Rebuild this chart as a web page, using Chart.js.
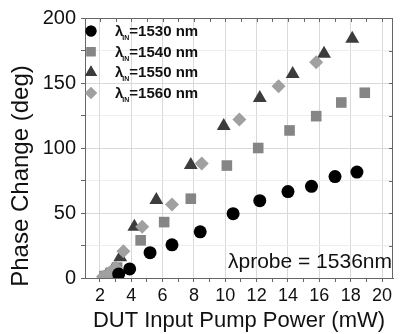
<!DOCTYPE html>
<html>
<head>
<meta charset="utf-8">
<script src="https://cdn.jsdelivr.net/npm/chart.js@4/dist/chart.umd.min.js"></script>
<style>
  html, body { margin: 0; padding: 0; background: #fff; }
  #wrap { width: 401px; height: 334px; }
</style>
</head>
<body>
<div id="wrap"><canvas id="phaseChart" width="401" height="334"></canvas></div>
<script>
// values (pump power in mW, phase change in deg)
const seriesLabels = ['1530', '1540', '1550', '1560'];

const power1530 = [3.2, 3.9, 5.2, 6.6, 8.4, 10.5, 12.2, 14.0, 15.5, 17.0, 18.4];
const phase1530 = [3, 7, 19.5, 25.5, 35.5, 49.5, 59.5, 66.5, 70.5, 78, 81.5];

const power1540 = [2.3, 2.7, 3.1, 4.6, 6.1, 7.8, 10.1, 12.1, 14.1, 15.8, 17.4, 18.9];
const phase1540 = [1.5, 4, 8, 29, 43, 61, 86.5, 100, 113.5, 124.5, 135, 142.5];

const power1550 = [2.4, 2.8, 3.3, 4.2, 5.6, 7.8, 9.9, 12.2, 14.3, 16.3, 18.1];
const phase1550 = [2, 6, 16, 39.5, 60, 87, 117, 138.5, 157, 172.5, 184];

const power1560 = [2.2, 2.6, 3.0, 3.5, 4.7, 6.6, 8.5, 10.9, 13.4, 15.8];
const phase1560 = [1, 4, 8, 20.5, 39.5, 56.5, 88, 122, 147.5, 166];

const xTicks = [2, 4, 6, 8, 10, 12, 14, 16, 18, 20];
const yTicks = [0, 50, 100, 150, 200];

const FONT = "'Liberation Sans', Arial, sans-serif";

function pts(xs, ys) {
    return xs.map((x, i) => ({ x: x, y: ys[i] }));
}

const styles = [
    { color: '#000000', shape: 'circle', radius: 6.5, order: 0 },
    { color: '#858585', shape: 'rect', radius: 7.5, order: 2 },
    { color: '#3c3c3c', shape: 'triangle', radius: 8, order: 3 },
    { color: '#a0a0a0', shape: 'rectRot', radius: 7, order: 1 }
];

const allX = [power1530, power1540, power1550, power1560];
const allY = [phase1530, phase1540, phase1550, phase1560];

const datasets = seriesLabels.map((lab, i) => ({
    label: lab,
    data: pts(allX[i], allY[i]),
    order: styles[i].order,
    pointStyle: styles[i].shape,
    pointRadius: styles[i].radius,
    pointHoverRadius: styles[i].radius,
    pointBackgroundColor: styles[i].color,
    pointBorderColor: styles[i].color,
    pointBorderWidth: 0,
    showLine: false
}));

function marker(ctx, shape, radius, x, y, color) {
    ctx.save();
    ctx.fillStyle = color;
    ctx.strokeStyle = color;
    ctx.lineWidth = 0;
    if (Chart.helpers && Chart.helpers.drawPoint) {
        Chart.helpers.drawPoint(ctx, { pointStyle: shape, radius: radius, rotation: 0, borderWidth: 0 }, x, y);
        ctx.fill();
    }
    ctx.restore();
}

// frame with inward ticks on top/right, legend, y title, probe note
const decorations = {
    id: 'decorations',
    afterDatasetsDraw(chart) {
        const ctx = chart.ctx;
        const a = chart.chartArea;
        const xs = chart.scales.x, ys = chart.scales.y;

        ctx.save();
        ctx.strokeStyle = '#666';
        ctx.lineWidth = 1;
        ctx.beginPath();
        ctx.moveTo(a.left, a.top + 0.5);
        ctx.lineTo(a.right - 0.5, a.top + 0.5);
        ctx.lineTo(a.right - 0.5, a.bottom);
        ctx.stroke();

        ctx.beginPath();
        for (let v = 2; v <= 20; v++) {
            const px = Math.round(xs.getPixelForValue(v)) + 0.5;
            ctx.moveTo(px, a.top);
            ctx.lineTo(px, a.top + 4);
        }
        for (let v = 0; v <= 200; v += 25) {
            const py = Math.round(ys.getPixelForValue(v)) + 0.5;
            ctx.moveTo(a.right, py);
            ctx.lineTo(a.right - 4, py);
        }
        ctx.stroke();

        // legend
        const lx = a.left + 6, tx = a.left + 30;
        seriesLabels.forEach((lab, i) => {
            const cy = a.top + 13 + i * 20.7;
            const s = styles[i];
            marker(ctx, s.shape, s.radius - 1, lx, cy, s.color);
            ctx.fillStyle = '#111';
            ctx.textBaseline = 'alphabetic';
            ctx.textAlign = 'left';
            const base = cy + 5;
            ctx.font = 'bold 15px ' + FONT;
            ctx.fillText('\u03bb', tx, base);
            const w = ctx.measureText('\u03bb').width;
            ctx.font = 'bold 7px ' + FONT;
            ctx.fillText('IN', tx + w - 1, base + 4);
            const w2 = ctx.measureText('IN').width;
            ctx.font = 'bold 15px ' + FONT;
            ctx.fillText('=' + lab + ' nm', tx + w + w2 - 1, base);
        });

        // probe wavelength note
        ctx.font = '21px ' + FONT;
        ctx.textAlign = 'right';
        ctx.textBaseline = 'alphabetic';
        ctx.fillStyle = '#111';
        ctx.fillText('\u03bbprobe = 1536nm', a.right - 1, a.bottom - 10);

        // y axis title
        ctx.translate(21, 176);
        ctx.rotate(-Math.PI / 2);
        ctx.textAlign = 'center';
        ctx.textBaseline = 'middle';
        ctx.font = '24px ' + FONT;
        ctx.fillText('Phase Change (deg)', 0, 0);
        ctx.restore();
    }
};

new Chart(document.getElementById('phaseChart'), {
    type: 'scatter',
    data: { datasets: datasets },
    options: {
        responsive: false,
        animation: false,
        events: [],
        layout: { padding: { top: 18, right: 4, left: 0, bottom: 0 } },
        plugins: {
            legend: { display: false },
            tooltip: { enabled: false }
        },
        scales: {
            x: {
                type: 'linear',
                min: 1.05,
                max: 20.7,
                afterBuildTicks: (scale) => {
                    const t = [];
                    for (let v = 2; v <= 20; v++) t.push({ value: v });
                    scale.ticks = t;
                },
                afterFit: (scale) => { scale.height = 56; },
                ticks: {
                    autoSkip: false,
                    maxRotation: 0,
                    padding: 3,
                    color: '#111',
                    font: { family: FONT, size: 18 },
                    callback: (v) => (xTicks.includes(v) ? String(v) : '')
                },
                grid: {
                    color: (c) => (c.tick && c.tick.value % 2 === 0 ? '#d9d9d9' : 'rgba(0,0,0,0)'),
                    tickColor: '#666',
                    tickLength: 4
                },
                border: { color: '#666', width: 1 },
                title: {
                    display: true,
                    text: 'DUT Input Pump Power (mW)',
                    color: '#111',
                    font: { family: FONT, size: 22 },
                    padding: { top: 0, bottom: 0 }
                }
            },
            y: {
                min: 0,
                max: 200,
                afterBuildTicks: (scale) => {
                    const t = [];
                    for (let v = 0; v <= 200; v += 25) t.push({ value: v });
                    scale.ticks = t;
                },
                afterFit: (scale) => { scale.width = 85; },
                ticks: {
                    autoSkip: false,
                    padding: 5,
                    color: '#111',
                    font: { family: FONT, size: 20 },
                    callback: (v) => (yTicks.includes(v) ? String(v) : '')
                },
                grid: {
                    color: (c) => {
                        if (!c.tick) return 'rgba(0,0,0,0)';
                        return c.tick.value % 50 === 0 ? '#d9d9d9' : '#eeeeee';
                    },
                    tickColor: '#666',
                    tickLength: 4
                },
                border: { color: '#666', width: 1 },
                title: { display: false }
            }
        }
    },
    plugins: [decorations]
});
</script>
</body>
</html>
